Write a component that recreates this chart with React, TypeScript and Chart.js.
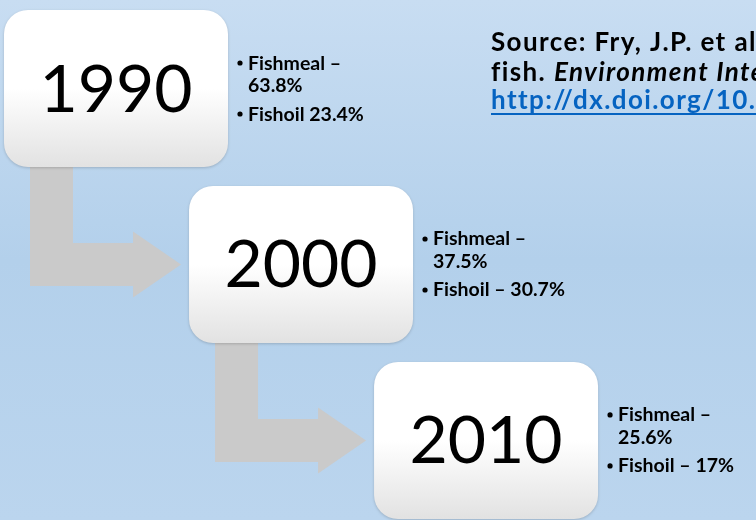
import React, { useEffect, useRef } from 'react';
import { Chart, registerables } from 'chart.js';

Chart.register(...registerables);

// ---- data ----
const years = ['1990', '2000', '2010'];
const fishmeal = [63.8, 37.5, 25.6];
const fishoil = [23.4, 30.7, 17];
const fishoilSeparators = ['', ' –', ' –'];
const sourceLine1 = 'Source: Fry, J.P. et al. (2016). Environmental health impacts of feeding crops to farmed';
const sourceLine2a = 'fish. ';
const sourceLine2b = 'Environment International 91: 201-214.';
const sourceLink = 'http://dx.doi.org/10.1016/j.envint.2016.02.022';

const FONT = 'Lato, "Open Sans", sans-serif';

const diagramPlugin = {
  id: 'diagram',
  beforeDraw(chart: any) {
    const { ctx, width, height } = chart;
    const g = ctx.createLinearGradient(0, 0, 0, height);
    g.addColorStop(0, '#c8ddf2');
    g.addColorStop(0.5, '#b3d0eb');
    g.addColorStop(1, '#bbd5ee');
    ctx.save();
    ctx.fillStyle = g;
    ctx.fillRect(0, 0, width, height);
    ctx.restore();
  },
  afterDatasetsDraw(chart: any) {
    const { ctx } = chart;
    const meta = chart.getDatasetMeta(0);
    const pts = meta.data.map((p: any) => ({ x: p.x, y: p.y }));
    const bw = 224;
    const bh = 157;
    const shaftHalf = 21.5;
    const headHalf = 33;
    const headLen = 48;

    ctx.save();
    // arrows
    ctx.fillStyle = '#cacaca';
    for (let i = 0; i < pts.length - 1; i++) {
      const c = pts[i];
      const n = pts[i + 1];
      const left = c.x - bw / 2;
      const sx0 = left + 26;
      const sx1 = left + 69;
      const tip = n.x - bw / 2 - 8;
      const hx = tip - headLen;
      ctx.beginPath();
      ctx.moveTo(sx0, c.y);
      ctx.lineTo(sx1, c.y);
      ctx.lineTo(sx1, n.y - shaftHalf);
      ctx.lineTo(hx, n.y - shaftHalf);
      ctx.lineTo(hx, n.y - headHalf);
      ctx.lineTo(tip, n.y);
      ctx.lineTo(hx, n.y + headHalf);
      ctx.lineTo(hx, n.y + shaftHalf);
      ctx.lineTo(sx0, n.y + shaftHalf);
      ctx.closePath();
      ctx.fill();
    }

    // boxes
    pts.forEach((p: any, i: number) => {
      const x = p.x - bw / 2;
      const y = p.y - bh / 2;
      const g = ctx.createLinearGradient(0, y, 0, y + bh);
      g.addColorStop(0, '#ffffff');
      g.addColorStop(0.5, '#ffffff');
      g.addColorStop(1, '#e2e2e2');
      ctx.save();
      ctx.shadowColor = 'rgba(0,0,0,0.18)';
      ctx.shadowBlur = 3;
      ctx.shadowOffsetY = 1;
      ctx.fillStyle = g;
      ctx.beginPath();
      ctx.roundRect(x, y, bw, bh, 24);
      ctx.fill();
      ctx.restore();

      ctx.fillStyle = '#000';
      ctx.font = `400 66px ${FONT}`;
      ctx.textAlign = 'center';
      ctx.textBaseline = 'alphabetic';
      ctx.fillText(years[i], p.x, p.y + 23);

      ctx.textAlign = 'left';
      ctx.font = `700 19.5px ${FONT}`;
      const bx = p.x + 124;
      const tx = p.x + 132;
      const l1 = p.y - 19;
      const l2 = p.y + 3.5;
      const l3 = p.y + 32;
      ctx.beginPath();
      ctx.arc(bx, l1 - 6.5, 2.6, 0, Math.PI * 2);
      ctx.arc(bx, l3 - 6.5, 2.6, 0, Math.PI * 2);
      ctx.fill();
      ctx.fillText('Fishmeal –', tx, l1);
      ctx.fillText(`${fishmeal[i]}%`, tx, l2);
      ctx.fillText(`Fishoil${fishoilSeparators[i]} ${fishoil[i]}%`, tx, l3);
    });

    // source text
    ctx.textAlign = 'left';
    ctx.fillStyle = '#000';
    (ctx as any).letterSpacing = '1.4px';
    ctx.font = `700 26px ${FONT}`;
    ctx.fillText(sourceLine1, 491, 51);
    ctx.fillText(sourceLine2a, 491, 81);
    const w2 = ctx.measureText(sourceLine2a).width;
    ctx.font = `italic 700 26px ${FONT}`;
    ctx.fillText(sourceLine2b, 491 + w2, 81);
    ctx.font = `700 26px ${FONT}`;
    ctx.fillStyle = '#0563c1';
    ctx.fillText(sourceLink, 491, 109);
    const lw = ctx.measureText(sourceLink).width;
    ctx.fillRect(491, 113, lw, 2);
    (ctx as any).letterSpacing = '0px';
    ctx.restore();
  },
};

export default function App() {
  const ref = useRef<HTMLCanvasElement>(null);
  useEffect(() => {
    document.body.style.margin = '0';
    const chart = new Chart(ref.current as HTMLCanvasElement, {
      type: 'scatter',
      data: {
        datasets: [
          {
            label: 'Year',
            data: years.map((_, i) => ({ x: i, y: i })),
            pointRadius: 0,
            pointHoverRadius: 0,
          },
        ],
      },
      options: {
        animation: false,
        responsive: false,
        events: [],
        layout: { padding: 0 },
        plugins: { legend: { display: false }, tooltip: { enabled: false } },
        scales: {
          x: { type: 'linear', display: false, min: -0.627, max: 3.459 },
          y: { type: 'linear', display: false, reverse: true, min: -0.503, max: 2.452 },
        },
      },
      plugins: [diagramPlugin],
    });
    return () => chart.destroy();
  }, []);
  return <canvas ref={ref} width={756} height={520} style={{ display: 'block' }} />;
}
